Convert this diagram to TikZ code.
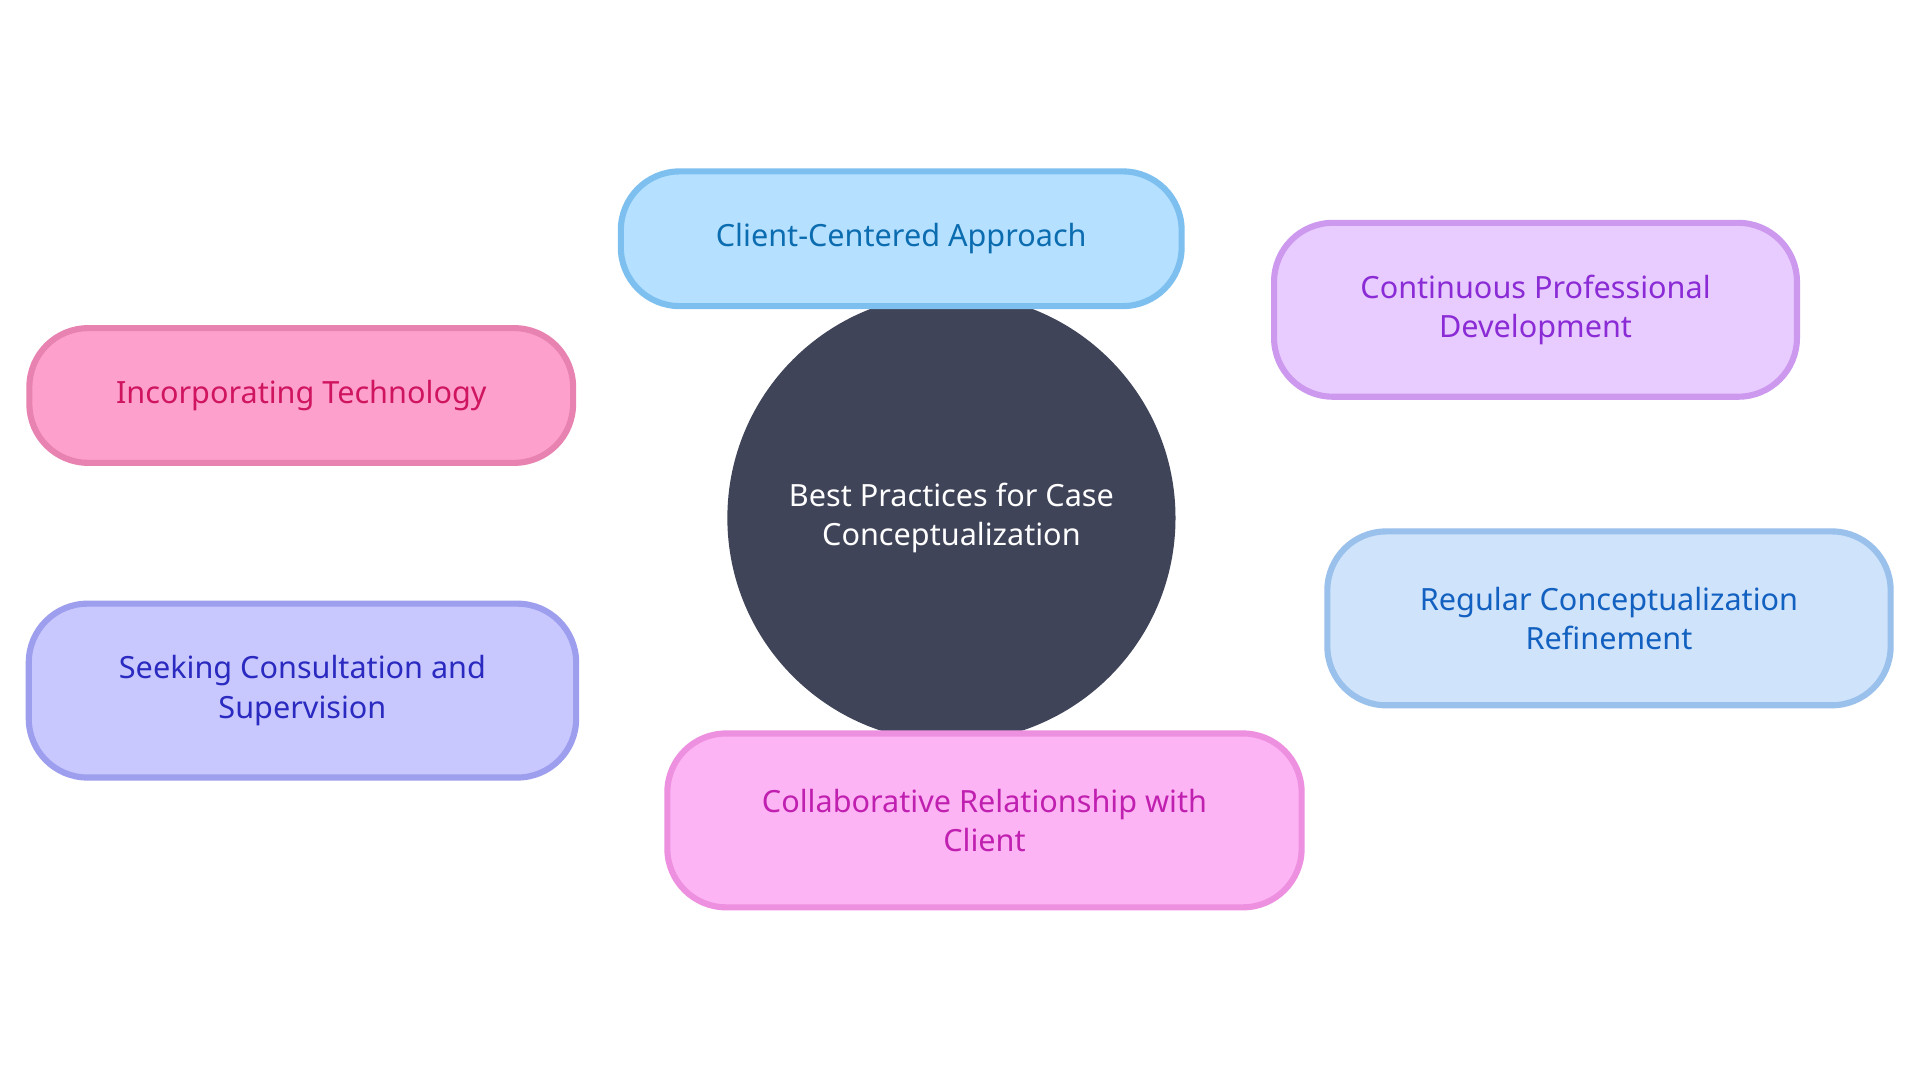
\documentclass[tikz,border=0pt]{standalone}
\usepackage{fontspec}
\setmainfont{Noto Sans}
\usetikzlibrary{backgrounds}
\definecolor{cbg}{HTML}{404459}
\definecolor{f1}{HTML}{B5E0FF}\definecolor{s1}{HTML}{7DC0F0}\definecolor{t1}{HTML}{0B6CB0}
\definecolor{f2}{HTML}{E8CCFF}\definecolor{s2}{HTML}{CC99EE}\definecolor{t2}{HTML}{8A2BD6}
\definecolor{f3}{HTML}{FDA0CB}\definecolor{s3}{HTML}{E882B0}\definecolor{t3}{HTML}{D0155F}
\definecolor{f4}{HTML}{CFE3FB}\definecolor{s4}{HTML}{9AC0EC}\definecolor{t4}{HTML}{1260C0}
\definecolor{f5}{HTML}{C8C8FF}\definecolor{s5}{HTML}{9E9EEE}\definecolor{t5}{HTML}{2A2AC0}
\definecolor{f6}{HTML}{FDB4F4}\definecolor{s6}{HTML}{EE90E0}\definecolor{t6}{HTML}{C020B0}
\begin{document}
\begin{tikzpicture}[x=1pt,y=1pt,
  box/.style n args={3}{draw=#2,fill=#1,text=#3,line width=5pt,rounded corners=48pt,align=center,font=\fontsize{25}{32}\selectfont,inner sep=0pt},
  edge/.style={line width=5pt}]
\useasboundingbox[fill=white] (0,0) rectangle (1568,882);
\node[circle,fill=cbg,text=white,minimum size=366pt,align=center,font=\fontsize{25}{32}\selectfont] (c) at (777,459) {Best Practices for Case\\Conceptualization};
\node[box={f1}{s1}{t1},minimum width=458pt,minimum height=110pt] (n1) at (736,687) {Client-Centered Approach};
\node[box={f2}{s2}{t2},minimum width=427pt,minimum height=142pt] (n2) at (1254,629) {Continuous Professional\\Development};
\node[box={f3}{s3}{t3},minimum width=444pt,minimum height=110pt] (n3) at (246,559) {Incorporating Technology};
\node[box={f4}{s4}{t4},minimum width=460pt,minimum height=142pt] (n4) at (1314,377) {Regular Conceptualization\\Refinement};
\node[box={f5}{s5}{t5},minimum width=447pt,minimum height=142pt] (n5) at (247,318) {Seeking Consultation and\\Supervision};
\node[box={f6}{s6}{t6},minimum width=518pt,minimum height=142pt] (n6) at (804,212) {Collaborative Relationship with\\Client};
\begin{scope}[on background layer]
\draw[edge,s1] (c.center) -- (n1.center);
\draw[edge,s2] (c.center) -- (n2.center);
\draw[edge,s3] (c.center) -- (n3.center);
\draw[edge,s4] (c.center) -- (n4.center);
\draw[edge,s5] (c.center) -- (n5.center);
\draw[edge,s6] (c.center) -- (n6.center);
\end{scope}
\end{tikzpicture}
\end{document}
